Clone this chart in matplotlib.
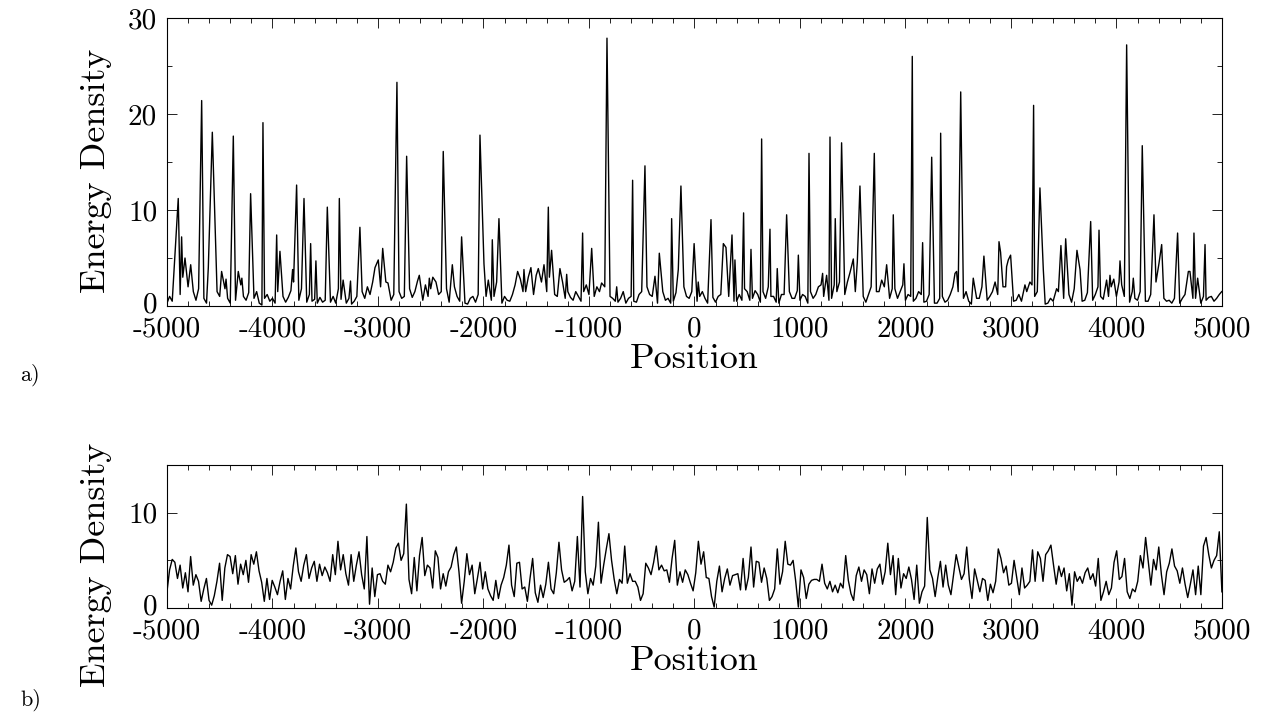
import matplotlib
matplotlib.use("Agg")
import matplotlib.pyplot as plt
import matplotlib.transforms as mtransforms
import numpy as np
from matplotlib.ticker import MultipleLocator

plt.rcParams['font.family'] = ['cmr10', 'DejaVu Serif']
plt.rcParams['mathtext.fontset'] = 'cm'
plt.rcParams['axes.unicode_minus'] = False
plt.rcParams['axes.formatter.use_mathtext'] = True

# panel a) : narrow peaks sitting on a low noisy floor
peak_pos = [-4918, -4893, -4861, -4829, -4775, -4671, -4608, -4570, -4545, -4482, -4440,
            -4371, -4324, -4290, -4207, -4090, -3960, -3929, -3809, -3771, -3701, -3638,
            -3588, -3480, -3366, -3330, -3260, -3171, -3028, -2997, -2955, -2905, -2820,
            -2728, -2608, -2513, -2480, -2381, -2295, -2207, -2033, -1995, -1954, -1916,
            -1853, -1676, -1616, -1550, -1480, -1426, -1385, -1354, -1275, -1211, -1060,
            -974, -880, -829, -737, -586, -469, -374, -333, -216, -153, -128, -3, 36, 157,
            274, 299, 356, 384, 466, 536, 637, 716, 785, 874, 985, 1086, 1215, 1253, 1285,
            1335, 1395, 1506, 1544, 1569, 1705, 1775, 1822, 1885, 1986, 2065, 2163, 2249,
            2334, 2470, 2485, 2524, 2643, 2744, 2887, 2902, 2959, 2975, 2997, 3133, 3180,
            3215, 3275, 3307, 3433, 3474, 3519, 3626, 3655, 3756, 3835, 3907, 3939, 4034,
            4097, 4160, 4245, 4356, 4403, 4429, 4580, 4682, 4697, 4735, 4770, 4840, 4998]
peak_val = [6.6, 11.2, 7.2, 5.0, 4.3, 21.4, 4.0, 18.1, 8.7, 3.6, 2.8,
            17.7, 3.6, 2.9, 11.7, 19.1, 7.4, 5.7, 3.8, 12.6, 11.2, 6.5,
            4.7, 10.3, 11.2, 2.7, 2.6, 8.2, 4.0, 4.8, 6.0, 2.4, 23.3,
            15.6, 3.2, 2.9, 3.0, 16.1, 4.3, 7.2, 17.8, 4.4, 2.7, 6.9,
            9.1, 3.6, 3.8, 4.0, 3.9, 4.3, 10.3, 5.8, 3.9, 3.3, 7.6,
            6.0, 2.4, 27.9, 2.0, 13.1, 14.6, 3.1, 5.5, 9.1, 3.8, 12.5, 6.5, 2.5, 9.0,
            6.5, 6.1, 7.4, 4.8, 9.7, 5.9, 17.4, 8.0, 3.9, 9.5, 5.3, 15.9, 3.4, 3.2, 17.6,
            9.1, 17.0, 4.9, 4.6, 12.5, 15.9, 2.7, 4.3, 9.5, 4.4, 26.0, 6.6, 15.5,
            18.0, 3.4, 3.6, 22.3, 2.9, 5.2, 6.7, 5.6, 4.1, 4.8, 5.3, 2.2, 2.5,
            20.9, 12.3, 3.8, 1.8, 6.3, 7.0, 5.8, 3.8, 8.8, 7.9, 2.7, 3.2, 4.7,
            27.2, 2.9, 16.7, 9.5, 4.4, 6.4, 7.6, 3.6, 3.6, 7.6, 2.9, 6.4, 1.5]

# floor of panel a), every 25 units from -5000 to 5000
floor_a = [0.3, 1.0, 0.5, 1.8, 2.5, 1.2, 3.0, 1.5, 2.0, 0.8, 1.5, 0.6, 1.8, 0.4, 0.8, 0.3, 0.6, 1.2, 2.0, 1.5,
           1.0, 0.4, 1.8, 0.8, 0.3, 1.2, 0.6, 1.5, 2.2, 1.0, 0.6, 1.4, 0.2, 0.8, 1.5, 0.3, 0.1, 0.8, 1.2, 0.5,
           0.8, 0.3, 1.5, 0.5, 1.0, 0.4, 0.9, 1.6, 2.5, 1.0, 0.6, 1.8, 0.9, 0.4, 1.2, 0.5, 0.7, 0.3, 0.9, 0.4,
           0.6, 1.4, 0.4, 1.0, 0.3, 1.8, 0.7, 1.2, 0.3, 0.8, 0.2, 0.5, 1.0, 0.4, 1.5, 0.8, 2.0, 1.2, 2.5, 3.0,
           3.5, 2.0, 4.0, 2.5, 1.0, 0.6, 1.2, 0.5, 1.5, 0.8, 1.0, 0.4, 1.8, 0.9, 1.5, 2.6, 1.2, 0.6, 2.2, 1.0,
           1.8, 0.9, 2.5, 1.2, 1.5, 0.6, 1.8, 0.4, 1.2, 2.0, 1.0, 0.5, 1.6, 0.3, 0.2, 0.8, 1.0, 0.4, 1.2, 0.6,
           2.0, 1.0, 1.5, 0.6, 1.0, 2.5, 0.8, 0.3, 1.0, 0.6, 0.5, 1.2, 2.2, 1.0, 2.8, 1.5, 1.5, 3.0, 2.0, 1.2,
           3.2, 1.8, 2.5, 1.0, 1.5, 3.0, 2.0, 1.2, 1.0, 2.0, 2.5, 0.8, 1.5, 0.9, 0.6, 1.5, 1.0, 0.5, 1.5, 2.2,
           1.2, 0.6, 1.0, 2.0, 1.5, 1.0, 2.0, 1.5, 1.0, 0.8, 0.5, 0.4, 0.8, 1.5, 0.3, 0.8, 1.0, 0.5, 0.4, 1.2,
           1.5, 0.8, 2.0, 1.2, 1.0, 0.4, 0.3, 1.5, 1.5, 0.6, 0.8, 0.3, 0.5, 1.4, 1.2, 0.7, 2.0, 1.0, 0.8, 1.5,
           1.2, 0.5, 1.0, 1.5, 0.8, 0.3, 1.5, 0.9, 0.4, 1.0, 1.2, 2.5, 2.0, 1.0, 1.0, 0.5, 0.5, 1.2, 0.6, 1.8,
           1.5, 0.6, 0.8, 1.6, 1.2, 0.4, 1.5, 0.8, 2.0, 1.0, 1.0, 0.4, 0.3, 1.2, 1.2, 0.6, 1.5, 0.8, 0.8, 1.6,
           0.6, 1.2, 1.0, 0.3, 1.5, 0.8, 1.2, 2.0, 2.2, 1.0, 1.5, 0.6, 0.8, 2.2, 1.5, 2.5, 2.0, 1.2, 2.5, 3.5,
           3.0, 1.5, 2.0, 1.0, 1.0, 0.4, 1.2, 2.0, 0.8, 1.5, 1.5, 0.6, 2.0, 1.2, 0.8, 1.8, 1.8, 0.8, 1.5, 2.2,
           0.6, 1.2, 1.0, 0.5, 0.8, 1.5, 1.2, 0.4, 0.5, 1.2, 1.0, 0.3, 0.3, 0.8, 1.0, 0.4, 0.6, 1.2, 2.0, 1.0,
           1.5, 0.4, 0.8, 1.5, 0.5, 0.2, 1.5, 0.8, 0.8, 2.0, 2.0, 0.6, 1.0, 1.5, 2.5, 1.2, 3.0, 2.0, 2.0, 3.2,
           1.0, 0.5, 0.6, 1.2, 0.5, 0.3, 1.5, 2.0, 2.2, 1.0, 1.5, 0.5, 1.0, 0.2, 0.3, 0.8, 0.5, 1.8, 1.5, 0.6,
           0.8, 1.5, 1.2, 0.4, 1.8, 1.0, 1.0, 0.5, 0.6, 1.4, 1.5, 0.6, 1.2, 2.0, 1.0, 0.7, 1.8, 1.0, 2.0, 2.8,
           1.0, 2.5, 2.2, 1.0, 1.0, 0.4, 1.5, 0.8, 0.6, 1.5, 1.0, 0.5, 0.5, 1.2, 1.5, 2.5, 2.0, 1.0, 0.8, 0.5,
           0.6, 0.3, 0.8, 1.5, 0.3, 0.8, 1.2, 0.6, 1.5, 0.8, 0.8, 0.4, 0.3, 1.0, 0.6, 0.9, 1.0, 0.5, 0.8, 1.2,
           1.5]

# panel b) : evenly sampled every 25 units from -5000 to 5000
energy_b = [1.7, 4.0, 5.1, 4.8, 3.1, 4.5, 2.1, 3.7, 1.7, 5.4, 2.4, 3.5, 2.8, 0.7, 2.0, 3.1,
            0.8, 0.3, 1.3, 2.8, 4.7, 0.8, 4.2, 5.6, 5.4, 3.6, 5.5, 2.5, 4.6, 3.5, 5.0, 2.7,
            5.6, 4.6, 5.9, 3.9, 2.7, 0.7, 3.1, 0.9, 2.9, 2.2, 1.4, 2.8, 3.9, 0.9, 3.1, 2.0,
            4.4, 6.3, 3.8, 2.8, 4.5, 5.6, 3.1, 4.2, 4.9, 2.8, 4.6, 3.4, 4.3, 3.7, 2.8, 5.6,
            3.5, 7.0, 4.0, 5.6, 3.6, 2.4, 5.6, 2.8, 4.5, 5.9, 3.5, 2.0, 7.5, 0.4, 4.2, 1.2,
            3.5, 3.6, 2.8, 2.5, 4.5, 3.8, 4.8, 6.3, 6.8, 5.0, 5.7, 10.9, 3.0, 1.5, 5.3, 1.8,
            5.5, 7.4, 3.4, 4.5, 4.2, 2.1,
            6.0, 5.3, 2.0, 3.6, 2.3, 3.8, 4.3, 5.6, 6.4, 3.8, 0.5, 2.8, 5.7, 3.5, 4.5, 1.5,
            3.1, 4.8, 2.0, 3.8, 2.0, 1.3, 0.8, 2.9, 1.0, 2.4, 3.2, 4.5, 6.6, 2.4, 1.2, 4.7,
            4.8, 2.0, 2.2, 0.7, 3.1, 5.2, 1.6, 0.6, 2.4, 1.1, 2.5, 4.8, 2.0, 1.5, 3.7, 6.9,
            4.0, 2.7, 2.9, 3.2, 1.8, 2.8, 7.5, 2.2, 11.7, 3.8, 1.5, 3.1, 2.4, 4.4, 9.0, 2.6,
            4.5, 6.2, 7.8, 5.0, 3.0, 1.5, 3.0, 2.6, 6.5, 2.6, 3.6, 2.8, 2.8, 2.2, 0.8, 1.5,
            4.7, 4.2, 3.5, 4.8, 6.5, 4.0, 4.5, 3.9, 4.0, 2.7, 5.2, 7.1, 2.4, 3.8, 2.7, 4.0,
            3.5, 2.6, 1.8,
            3.7, 7.0, 4.6, 5.9, 3.2, 3.1, 1.2, 0.1, 2.8, 4.4, 1.7, 3.1, 4.1, 2.4, 3.4, 3.5,
            3.6, 1.9, 5.2, 1.9, 3.2, 6.4, 2.2, 4.9, 4.8, 2.7, 4.2, 3.1, 0.8, 1.2, 2.0, 6.2,
            2.5, 3.8, 7.0, 4.6, 4.5, 5.0, 2.8, 0.1, 4.0, 3.2, 1.0, 2.5, 2.9, 3.0, 3.0, 2.8,
            4.6, 2.6, 2.0, 2.8, 1.7, 2.4, 1.6, 2.6, 2.1, 5.5, 2.9, 1.5, 0.8, 3.4, 4.3, 2.8,
            4.0, 3.5, 1.5, 4.1, 2.6, 4.1, 4.6, 2.5, 3.8, 6.8, 3.5, 5.5, 1.4, 5.2, 2.1, 3.6,
            3.1, 4.3, 3.0, 0.9, 4.5, 0.5, 1.7, 2.3, 9.5, 4.0, 3.1, 1.2, 3.2, 4.9, 2.2, 4.5,
            2.4, 1.4, 3.5, 5.6,
            4.3, 3.0, 3.6, 6.4, 3.0, 1.0, 4.1, 2.9, 1.7, 3.1, 2.9, 0.8, 2.5, 1.6, 2.8, 6.2,
            5.2, 3.7, 4.4, 2.4, 2.6, 5.0, 3.2, 1.4, 4.2, 2.1, 2.4, 2.8, 6.1, 2.8, 5.9, 5.2,
            2.8, 5.6, 6.0, 6.6, 4.5, 2.5, 4.4, 3.3, 4.2, 1.8, 3.6, 0.3, 3.8, 2.8, 3.3, 2.6,
            3.7, 4.2, 3.0, 3.6, 2.3, 5.2, 0.8, 1.7, 2.8, 1.4, 2.1, 4.8, 6.0, 3.0, 3.3, 5.2,
            1.7, 1.0, 2.0, 1.7, 2.8, 5.5, 4.2, 7.4, 4.9, 2.4, 5.1, 4.0, 6.4, 3.5, 1.4, 3.8,
            4.7, 6.2, 4.4, 3.9, 2.6, 4.2, 2.5, 1.1, 2.5, 4.0, 1.4, 4.4, 1.4, 6.5, 7.4, 5.6,
            4.2, 5.0, 5.5, 8.0, 1.7]

xticks = [-5000, -4000, -3000, -2000, -1000, 0, 1000, 2000, 3000, 4000, 5000]
yticks_a = [0, 10, 20, 30]
yticks_b = [0, 10]

# merge peaks into the floor of panel a
fp = np.linspace(-5000, 5000, len(floor_a))
fv = np.array(floor_a)
pp = np.array(peak_pos)
keep = np.array([np.min(np.abs(pp - x)) > 8 for x in fp])
xa = np.concatenate([fp[keep], pp])
ya = np.concatenate([fv[keep], np.array(peak_val)])
order = np.argsort(xa)
xa, ya = xa[order], ya[order]

xb = np.linspace(-5000, 5000, len(energy_b))

fig = plt.figure(figsize=(12.61, 7.17), dpi=100)
ax1 = fig.add_axes([0.1324, 0.5732, 0.8366, 0.4017])
ax2 = fig.add_axes([0.1324, 0.152, 0.8366, 0.1994])

ax1.plot(xa, ya, color='black', lw=1.0)
ax2.plot(xb, energy_b, color='black', lw=1.0)

for ax, ymax, yt in [(ax1, 30, yticks_a), (ax2, 15, yticks_b)]:
    ax.set_xlim(-5000, 5000)
    ax.set_ylim(0, ymax)
    ax.set_xticks(xticks)
    ax.set_xticklabels([str(t) for t in xticks])
    ax.set_yticks(yt)
    ax.set_yticklabels([str(t) for t in yt])
    ax.xaxis.set_minor_locator(MultipleLocator(200))
    ax.yaxis.set_minor_locator(MultipleLocator(5))
    ax.tick_params(which='both', direction='in', top=True, right=True, width=0.6)
    ax.tick_params(which='major', length=7, labelsize=21)
    ax.tick_params(axis='x', which='major', pad=7)
    ax.tick_params(axis='y', which='major', pad=7)
    ax.tick_params(which='minor', length=3.5)
    for s in ax.spines.values():
        s.set_linewidth(0.8)
    ax.set_xlabel('Position', fontsize=26, labelpad=1)
    ax.set_ylabel('Energy Density', fontsize=26)

ax1.yaxis.set_label_coords(-0.052, 0.47)
ax2.yaxis.set_label_coords(-0.052, 0.3)

# lift the "0" y label a little so it sits just above "-5000"
lift = mtransforms.ScaledTranslation(0, 3 / 72, fig.dpi_scale_trans)
for ax in (ax1, ax2):
    lab = ax.get_yticklabels()[0]
    lab.set_transform(lab.get_transform() + lift)

fig.text(0.016, 0.477, 'a)', fontsize=16, va='center')
fig.text(0.016, 0.024, 'b)', fontsize=16, va='center')

fig.savefig('out.png', dpi=100)
